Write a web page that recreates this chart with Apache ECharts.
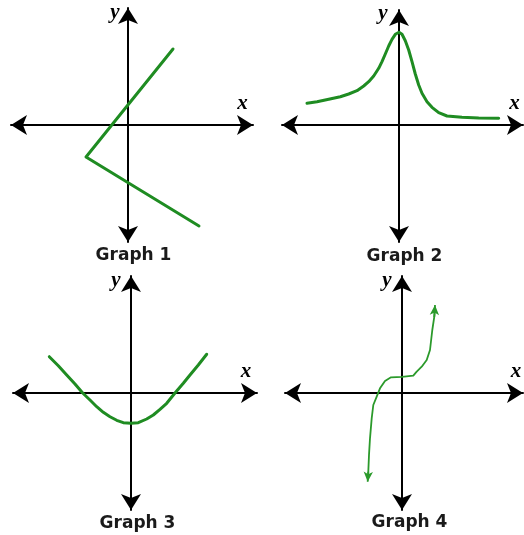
<!DOCTYPE html>
<html><head><meta charset="utf-8">
<script src="https://cdn.jsdelivr.net/npm/echarts@6/dist/echarts.min.js"></script>
<style>html,body{margin:0;padding:0;background:#fff}#c{width:524px;height:535px}</style>
</head><body><div id="c"></div>
<script>
// ---- data (units: 1 = one grid step of each sketch) ----
const titles = ['Graph 1', 'Graph 2', 'Graph 3', 'Graph 4'];
const axisNameX = 'x';
const axisNameY = 'y';

const graph1X = [4.5, -4.2, 7.1];
const graph1Y = [7.6, -3.2, -10.1];

const graph2X = [-9.2, -8.2, -7.03, -5.87, -5.03, -4.2, -3.53, -3.03, -2.53, -2.03, -1.7, -1.37, -1.03, -0.7, -0.37, 0,
  0.3, 0.63, 0.97, 1.3, 1.63, 1.97, 2.3, 2.8, 3.3, 3.97, 4.8, 6.3, 7.97, 9.97];
const graph2Y = [2.17, 2.33, 2.57, 2.83, 3.1, 3.43, 3.9, 4.33, 4.9, 5.67, 6.33, 7.1, 7.9, 8.57, 9.07, 9.27,
  9.07, 8.43, 7.5, 6.33, 5.1, 4.0, 3.17, 2.33, 1.77, 1.23, 0.9, 0.77, 0.7, 0.67];

const graph3X = [-8.17, -7.27, -6.43, -5.6, -4.83, -4.1, -3.43, -2.77, -2.1, -1.43, -0.77, 0, 0.73, 1.57, 2.23, 2.9, 3.57, 4.4, 5.23, 5.9, 6.73, 7.57];
const graph3Y = [3.63, 2.73, 1.8, 0.9, 0, -0.7, -1.37, -1.93, -2.37, -2.73, -2.97, -3.03, -2.97, -2.6, -2.2, -1.63, -1.03, 0, 0.97, 1.8, 2.8, 3.87];

const graph4X = [-3.42, -3.37, -3.3, -3.2, -3.03, -2.87, -2.53, -2.2, -1.7, -1.1, 0, 1.13, 1.47, 1.97, 2.47, 2.8, 3.03, 3.23, 3.29];
const graph4Y = [-8.55, -7.87, -6.2, -4.53, -2.53, -1.2, -0.37, 0.47, 1.2, 1.57, 1.62, 1.73, 2.13, 2.63, 3.3, 4.3, 6.3, 7.63, 8.5];
const graph4ArrowTail = [[-3.37, -7.87], [3.23, 7.63]];
const graph4ArrowHead = [[-3.43, -8.87], [3.3, 8.8]];

// ---- layout (pixels) ----
const layouts = [
  {ox: 128, oy: 125, l: 11, r: 253, t: 8, b: 242, xl: [242.5, 104], yl: [115, 13], tl: [133.5, 247]},
  {ox: 399, oy: 125, l: 282, r: 523, t: 10, b: 242, xl: [514.5, 104], yl: [383, 13.5], tl: [404.5, 248]},
  {ox: 131, oy: 393, l: 13, r: 257, t: 276, b: 510, xl: [246, 372], yl: [116, 281], tl: [137.5, 515]},
  {ox: 402, oy: 393, l: 285, r: 523, t: 276, b: 510, xl: [516, 372], yl: [387, 281], tl: [409.5, 514]}
];
const UNIT = 10;
const ARROW_W = 15, ARROW_H = 16;
const GREEN = '#1f8c22';
const GREEN4 = '#2b9a2b';

const grids = [], xAxes = [], yAxes = [], graphics = [];
layouts.forEach((L, i) => {
  const gl = L.l, gr = L.r, gt = L.t, gb = L.b;
  grids.push({left: gl, top: gt, width: gr - gl, height: gb - gt, containLabel: false});
  const axisCommon = {
    type: 'value', gridIndex: i,
    axisLine: {show: true, onZero: true, symbol: ['arrow', 'arrow'], symbolSize: [ARROW_W, ARROW_H],
      lineStyle: {color: '#000', width: 2}},
    axisTick: {show: false}, axisLabel: {show: false}, splitLine: {show: false}
  };
  xAxes.push(Object.assign({}, axisCommon, {min: (gl - L.ox) / UNIT, max: (gr - L.ox) / UNIT}));
  yAxes.push(Object.assign({}, axisCommon, {min: (L.oy - gb) / UNIT, max: (L.oy - gt) / UNIT}));
  const nameStyle = {fill: '#000', fontStyle: 'italic', fontWeight: 'bold', fontSize: 21,
    fontFamily: 'Liberation Serif', align: 'center', verticalAlign: 'middle',
    textAlign: 'center', textVerticalAlign: 'middle'};
  graphics.push({type: 'text', x: L.xl[0], y: L.xl[1], style: Object.assign({text: axisNameX}, nameStyle)});
  graphics.push({type: 'text', x: L.yl[0], y: L.yl[1], style: Object.assign({text: axisNameY}, nameStyle)});
  graphics.push({type: 'text', x: L.tl[0], y: L.tl[1], style: {text: titles[i], fill: '#1a1a1a',
    fontWeight: 'bold', fontSize: 17, fontFamily: 'DejaVu Sans',
    align: 'center', verticalAlign: 'top', textAlign: 'center', textVerticalAlign: 'top'}});
});

const zip = (xs, ys) => xs.map((x, k) => [x, ys[k]]);
const lineBase = {type: 'line', showSymbol: false, symbol: 'none', silent: true, animation: false, z: 1, smooth: false};

const series = [
  Object.assign({}, lineBase, {xAxisIndex: 0, yAxisIndex: 0, data: zip(graph1X, graph1Y),
    lineStyle: {color: GREEN, width: 3, cap: 'round', join: 'round'}}),
  Object.assign({}, lineBase, {xAxisIndex: 1, yAxisIndex: 1, data: zip(graph2X, graph2Y),
    lineStyle: {color: GREEN, width: 3, cap: 'round', join: 'round'}}),
  Object.assign({}, lineBase, {xAxisIndex: 2, yAxisIndex: 2, data: zip(graph3X, graph3Y),
    lineStyle: {color: GREEN, width: 3, cap: 'round', join: 'round'}}),
  Object.assign({}, lineBase, {xAxisIndex: 3, yAxisIndex: 3, data: zip(graph4X, graph4Y),
    lineStyle: {color: GREEN4, width: 1.8, join: 'round'},
    markLine: {silent: true, animation: false, symbol: ['none', 'arrow'], symbolSize: [7, 10],
      label: {show: false}, lineStyle: {color: GREEN4, width: 1.8, type: 'solid'},
      emphasis: {disabled: true},
      data: graph4ArrowTail.map((p, k) => [{coord: p}, {coord: graph4ArrowHead[k]}])}})
];

const chart = echarts.init(document.getElementById('c'), null, {renderer: 'canvas'});
chart.setOption({
  animation: false,
  backgroundColor: '#fff',
  grid: grids, xAxis: xAxes, yAxis: yAxes,
  series: series,
  graphic: graphics
});
</script></body></html>
